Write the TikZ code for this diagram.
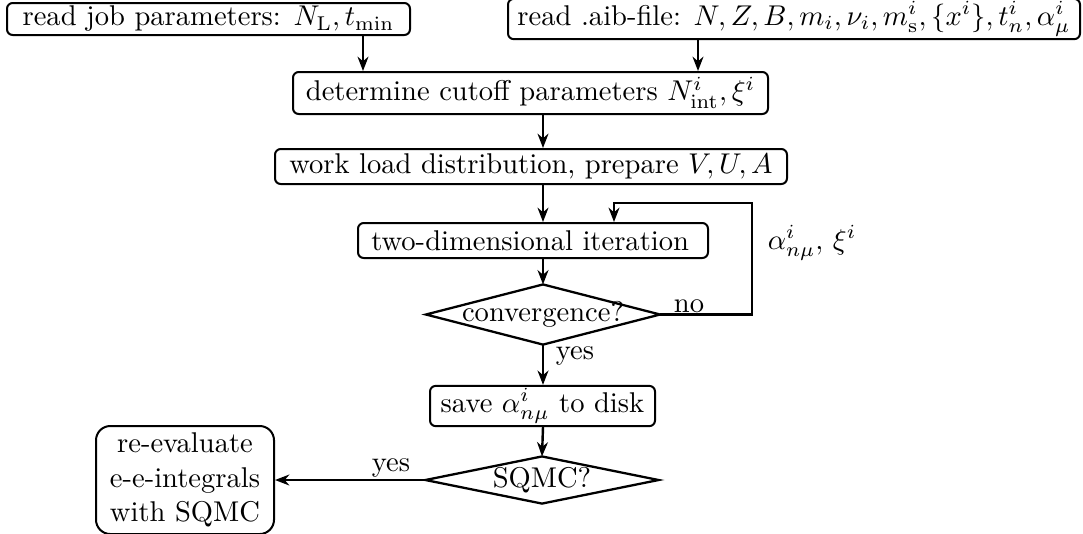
\documentclass[tikz,border=0pt]{standalone}
\usetikzlibrary{arrows.meta}
\begin{document}
\begin{tikzpicture}[x=0.35pt,y=-0.35pt,
  box/.style={draw, rounded corners=2pt, line width=0.7pt, inner sep=1pt, align=center},
  decision/.style={inner sep=0pt},
  diaframe/.style={draw, line width=0.8pt, line join=miter},
  arr/.style={line width=0.85pt, -{Stealth[length=5pt,width=3.8pt,inset=1.6pt]}},
  lbl/.style={inner sep=0pt}]
\useasboundingbox (0,0) rectangle (1083,533);
% nodes
\node[box, minimum width={403*0.35pt}, minimum height={32*0.35pt}] (job) at (208.5,19)
  {read job parameters: $N_{\mathrm{L}}, t_{\min}$};
\node[box, minimum width={572*0.35pt}, minimum height={32*0.35pt}] (aib) at (794,19)
  {read .aib-file: $N, Z, B, m_i, \nu_i, m^i_{\mathrm{s}}, \{x^i\}, t^i_n, \alpha^i_\mu$};
\node[box, minimum width={475*0.35pt}, minimum height={42*0.35pt}] (det) at (530.5,93)
  {determine cutoff parameters $N^i_{\mathrm{int}}, \xi^i$};
\node[box, minimum width={512*0.35pt}, minimum height={35*0.35pt}] (work) at (531,166.5)
  {work load distribution, prepare $V, U, A$};
\node[box, minimum width={350*0.35pt}, minimum height={35*0.35pt}] (two) at (533,240.5)
  {two-dimensional iteration\hspace{2pt}};
\node[decision, minimum width={233*0.35pt}, minimum height={59*0.35pt}] (conv) at (543,314.5)
  {convergence?};
\node[box, minimum width={225*0.35pt}, minimum height={34*0.35pt}] (save) at (542.5,406)
  {save $\alpha^i_{n\mu}$ to disk};
\node[decision, minimum width={232*0.35pt}, minimum height={46*0.35pt}] (sqmc) at (542,480)
  {SQMC?};
\node[box, rounded corners=5pt, minimum width={178*0.35pt}, minimum height={108*0.35pt}] (reev) at (185,480)
  {re-evaluate\\e-e-integrals\\with SQMC};
% diamonds
\draw[diaframe] (conv.west) -- (conv.north) -- (conv.east) -- (conv.south) -- cycle;
\draw[diaframe] (sqmc.west) -- (sqmc.north) -- (sqmc.east) -- (sqmc.south) -- cycle;
% helper coordinates
\coordinate (xa) at (363,0);
\coordinate (xb) at (698,0);
\coordinate (xm) at (543,0);
\coordinate (xl) at (614,0);
\coordinate (lr) at (752,203);
% connectors
\draw[arr] (job.south -| xa) -- (det.north -| xa);
\draw[arr] (aib.south -| xb) -- (det.north -| xb);
\draw[arr] (det.south -| xm) -- (work.north -| xm);
\draw[arr] (work.south -| xm) -- (two.north -| xm);
\draw[arr] (two.south -| xm) -- (conv.north);
\draw[arr] (conv.south) -- (save.north -| xm);
\draw[arr] (save.south -| xm) -- (sqmc.north);
\draw[arr] (sqmc.west) -- (reev.east |- sqmc.west);
\draw[arr] (conv.east) -| (lr) -- (xl |- lr) -- (two.north -| xl);
% labels
\node[lbl] (no) at (689,306) {no};
\node[lbl] (yes1) at (575,356) {yes};
\node[lbl] (yes2) at (391,468) {yes};
\node[lbl] (fb) at (812,243) {$\alpha^i_{n\mu},\,\xi^i$};
\end{tikzpicture}
\end{document}
